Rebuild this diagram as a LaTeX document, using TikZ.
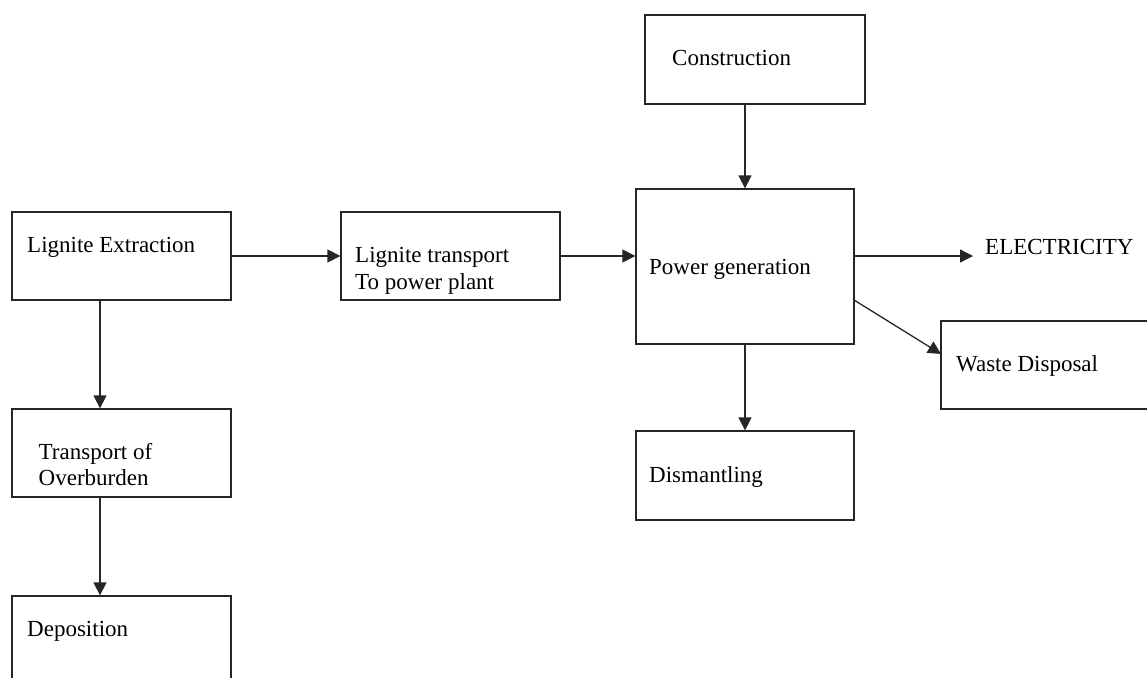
\documentclass[tikz,border=0pt]{standalone}
\usepackage{fontspec}
\setmainfont{Liberation Serif}
\usetikzlibrary{arrows.meta}

\begin{document}
\begin{tikzpicture}[x=1pt, y=-1pt,
  box/.style={draw=black!85, line width=1.3pt, rectangle, inner sep=0pt},
  lbl/.style={inner sep=0pt, anchor=base west, font=\fontsize{23}{26.6}\selectfont},
  flow/.style={draw=black!85, line width=1.3pt,
    -{Triangle[length=13pt, width=13pt]}}
]
\useasboundingbox (0,0) rectangle (1147,677);

% process boxes
\node[box, minimum width=219pt, minimum height=88pt] (ext)  at (121.5,256)   {};
\node[box, minimum width=219pt, minimum height=88pt] (ltr)  at (450.5,256)   {};
\node[box, minimum width=218pt, minimum height=155pt] (pg)  at (745,266.5)   {};
\node[box, minimum width=220pt, minimum height=89pt] (con)  at (755,59.5)    {};
\node[box, minimum width=229pt, minimum height=88pt] (wd)   at (1055.5,365)  {};
\node[box, minimum width=218pt, minimum height=89pt] (dis)  at (745,475.5)   {};
\node[box, minimum width=219pt, minimum height=88pt] (tob)  at (121.5,453)   {};
\node[box, minimum width=219pt, minimum height=89pt] (dep)  at (121.5,640.5) {};

% box texts
\node[lbl] (t-ext) at (27,252)  {Lignite Extraction};
\node[lbl] (t-ltr) at (355,262.7) {\begin{tabular}[t]{@{}l@{}}Lignite transport\\To power plant\end{tabular}};
\node[lbl] (t-pg)  at (649,274) {Power generation};
\node[lbl] (t-con) at (672,65)  {Construction};
\node[lbl] (t-wd)  at (956,371) {Waste Disposal};
\node[lbl] (t-dis) at (649,482) {Dismantling};
\node[lbl] (t-tob) at (38.5,459) {\begin{tabular}[t]{@{}l@{}}Transport of\\Overburden\end{tabular}};
\node[lbl] (t-dep) at (27,636)  {Deposition};
\node[lbl] (elec)  at (985,254) {ELECTRICITY};

% connector end points
\coordinate (elecin) at (973,256);
\coordinate (pgout)  at (854,300);
\coordinate (wdin)   at (941,354);
\coordinate (extdn)  at (100,300);
\coordinate (tobdn)  at (100,497);

% connectors
\draw[flow] (ext.east) -- (ltr.west);
\draw[flow] (ltr.east) -- (ltr.east -| pg.west);
\draw[flow] (pg.north |- con.south) -- (pg.north);
\draw[flow] (pg.south) -- (dis.north);
\draw[flow] (pg.east |- elecin) -- (elecin);
\draw[flow] (pgout) -- (wdin);
\draw[flow] (extdn) -- (extdn |- tob.north);
\draw[flow] (tobdn) -- (tobdn |- dep.north);
\end{tikzpicture}
\end{document}
